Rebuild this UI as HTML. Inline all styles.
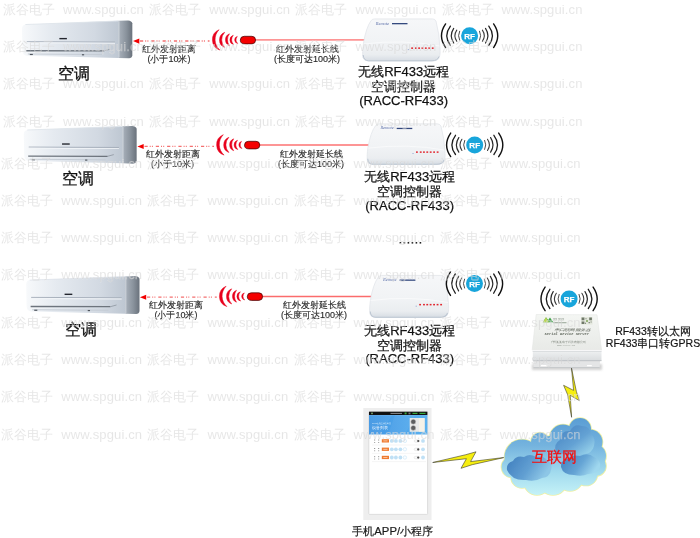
<!DOCTYPE html>
<html><head><meta charset="utf-8">
<style>
html,body{margin:0;padding:0;background:#fff}
body{width:700px;height:538px;position:relative;overflow:hidden;font-family:"Liberation Sans",sans-serif;color:#1a1a1a}
#root{position:absolute;left:0;top:0;width:700px;height:538px;will-change:transform}
svg{position:absolute;left:0;top:0}
.t{position:absolute;white-space:nowrap;line-height:1}
.s9{font-size:9px;color:#2a2a2a;text-align:center;line-height:10.3px;-webkit-text-stroke:0.15px #2a2a2a}
.ac{font-size:16px;color:#111;-webkit-text-stroke:0.3px #111}
.ctl{font-size:13px;line-height:15px;text-align:center;color:#111;-webkit-text-stroke:0.25px #111}
.wm{position:absolute;left:0;top:0;width:700px;height:538px;z-index:5;pointer-events:none}
.wr{position:absolute;left:0;height:16px;font-size:13px;line-height:16px;color:rgba(208,208,208,0.58);-webkit-text-stroke:0.25px rgba(255,255,255,0.35);white-space:nowrap}
.wr span{position:absolute;top:0}
.wr span:nth-child(even){letter-spacing:.12px}
</style></head>
<body>
<div id="root">
<svg width="700" height="538" viewBox="0 0 700 538">
<defs>
 <linearGradient id="acFront" x1="0" y1="0" x2="1" y2="0">
  <stop offset="0" stop-color="#f7f9fb"/><stop offset="0.3" stop-color="#e5eaf0"/><stop offset="0.75" stop-color="#d2d9e2"/><stop offset="1" stop-color="#bec7d2"/>
 </linearGradient>
 <linearGradient id="acSide" x1="0" y1="0" x2="1" y2="0">
  <stop offset="0" stop-color="#a9b1bb"/><stop offset="0.55" stop-color="#8a939d"/><stop offset="1" stop-color="#6a727c"/>
 </linearGradient>
 <linearGradient id="ctlG" x1="0" y1="0" x2="0" y2="1">
  <stop offset="0" stop-color="#f6f7f9"/><stop offset="0.55" stop-color="#f1f3f5"/><stop offset="0.85" stop-color="#eaedf0"/><stop offset="1" stop-color="#d6dce3"/>
 </linearGradient>
 <linearGradient id="hdrG" x1="0" y1="0" x2="1" y2="0">
  <stop offset="0" stop-color="#3f95e3"/><stop offset="1" stop-color="#5cb2f0"/>
 </linearGradient>

 <g id="acu">
  <path d="M3.6,4.3 Q0.3,4.7 0.2,8.7 L0.6,31 Q1,35.8 5,36 L96.6,38.3 L96.6,0.6 Z" fill="url(#acFront)"/>
  <path d="M3.6,4.4 L96.5,0.8" stroke="#dde3ea" stroke-width="0.8" fill="none"/>
  <path d="M96.6,0.6 L106,0.2 Q109.8,0.6 110.3,3 L110.3,35.5 Q110,38.3 107,38.7 L96.6,38.3 Z" fill="url(#acSide)"/>
  <path d="M97.1,1 L97.1,37.8" stroke="#c9d0d8" stroke-width="0.9"/>
  <path d="M5,21.8 L93,22.2" stroke="#a3acb8" stroke-width="0.9"/>
  <path d="M5,23 L93,23.4" stroke="#f2f5f8" stroke-width="1"/>
  <path d="M4.5,31 L82,31.2" stroke="#6d747d" stroke-width="1.3"/>
  <path d="M82,31.2 L88,29.5" stroke="#8e96a0" stroke-width="0.8"/>
  <path d="M6,34.3 L80,34.8" stroke="#c5ccd5" stroke-width="1"/>
  <rect x="8" y="34.2" width="3" height="1.2" fill="#50565e"/>
  <rect x="60" y="34.5" width="2.2" height="1.2" fill="#50565e"/>
  <rect x="37.5" y="18" width="7.5" height="1.4" fill="#23262e"/>
 </g>

 <g id="ctl">
  <path d="M12.5,0.9 L70.5,0.9 Q73,0.9 74,3.2 Q77.3,15 78,30 Q78.6,38 76.5,41 Q74.5,43 70,43 L6.5,43 Q2,43 0.9,39.5 Q0.1,35 1.5,25 Q4,10 8.8,3 Q10,0.9 12.5,0.9 Z" fill="url(#ctlG)" stroke="#dfe3e8" stroke-width="0.7"/>
  <path d="M1.2,37 Q1.6,42.6 6.5,42.8 L70,42.8 Q75.5,42.8 77,38.5" stroke="#bcc6d2" stroke-width="1" fill="none"/>
  <path d="M1.5,26 Q20,23.5 40,24 Q60,24.5 77.5,28" stroke="#ffffff" stroke-width="0.8" fill="none" opacity="0.7"/>
  <text x="13.8" y="6.6" font-size="4.4" font-style="italic" fill="#5a6ea8" font-family="Liberation Serif">Remote</text>
  <rect x="30" y="5" width="15.5" height="1.3" fill="#34497e"/>
  <rect x="45.8" y="31.2" width="0.9" height="0.9" fill="#7a8fc8"/>
  <g fill="#e2262e">
   <rect x="49.2" y="29.4" width="1.8" height="1.5"/><rect x="53" y="29.4" width="1.8" height="1.5"/>
   <rect x="56.2" y="29.4" width="1.8" height="1.5"/><rect x="59.5" y="29.4" width="1.8" height="1.5"/>
   <rect x="62.9" y="29.4" width="1.8" height="1.5"/><rect x="66.3" y="29.4" width="1.8" height="1.5"/>
   <rect x="69.8" y="29.4" width="1.8" height="1.5"/>
  </g>
 </g>

 <g id="rf">
  <g fill="none" stroke-linecap="round">
   <path d="M-24,-11.8 Q-32.2,0 -24,11.8 M24,-11.8 Q32.2,0 24,11.8" stroke="#111" stroke-width="1.4"/>
   <path d="M-19.2,-9.6 Q-26.4,0 -19.2,9.6 M19.2,-9.6 Q26.4,0 19.2,9.6" stroke="#1c1c1c" stroke-width="1.3"/>
   <path d="M-15.9,-7.3 Q-20.7,0 -15.9,7.3 M15.9,-7.3 Q20.7,0 15.9,7.3" stroke="#2a2a2a" stroke-width="1.2"/>
   <path d="M-12.8,-5.6 Q-16.6,0 -12.8,5.6 M12.8,-5.6 Q16.6,0 12.8,5.6" stroke="#3a3a3a" stroke-width="1.1"/>
   <path d="M-10,-4.5 Q-12.2,0 -10,4.5 M10,-4.5 Q12.2,0 10,4.5" stroke="#4a4a4a" stroke-width="1"/>
  </g>
  <circle cx="0" cy="0" r="8.5" fill="#18a5db"/>
  <text x="0" y="2.9" font-size="8" font-weight="bold" fill="#fff" text-anchor="middle" font-family="Liberation Sans" stroke="#fff" stroke-width="0.25">RF</text>
 </g>

 <g id="ir">
  <!-- local origin: (212,40) row1 -->
  <g fill="#e8001c" stroke="#e8001c" stroke-width="0.5" stroke-linejoin="round">
   <path d="M7.1,-10.3 A10.9,10.9 0 0 0 7.9,10.1 A14,14 0 0 1 7.1,-10.3 Z"/>
   <path d="M12.7,-7.7 A8.15,8.15 0 0 0 12.7,7.5 A11.1,11.1 0 0 1 12.7,-7.7 Z"/>
   <path d="M17.5,-6.2 A6.4,6.4 0 0 0 17.5,5.7 A9.85,9.85 0 0 1 17.5,-6.2 Z"/>
   <path d="M21.3,-4.7 A4.82,4.82 0 0 0 21.6,4.6 A6.77,6.77 0 0 1 21.3,-4.7 Z"/>
   <path d="M25.3,-3.6 A3.65,3.65 0 0 0 25.7,3.5 A5.5,5.5 0 0 1 25.3,-3.6 Z"/>
  </g>
  <path d="M32.3,-3.7 L39.8,-3.7 Q43.6,-3.7 43.6,0.1 Q43.6,3.9 39.8,3.9 L32.6,3.9 Q28.3,3.9 28.3,0.1 Q28.3,-3.7 32.3,-3.7 Z" fill="#f40000" stroke="#3a0000" stroke-width="0.7"/>
 </g>

</defs>

<!-- AC units -->
<use href="#acu" transform="translate(21.8,20.2) scale(1.002,0.985)"/>
<use href="#acu" transform="translate(23.6,125.7) scale(1.025,0.98)"/>
<use href="#acu" transform="translate(26,275.8) scale(1.029,0.99)"/>

<!-- dashed arrows -->
<g stroke="#f47070" stroke-width="1.3" fill="none">
 <path d="M140,41 L209.5,41" stroke-dasharray="3.2 2 1 1.2 1 2.9"/>
 <path d="M144.5,146.3 L214,146.3" stroke-dasharray="3.2 2 1 1.2 1 2.9"/>
 <path d="M147,297.1 L216.8,297.1" stroke-dasharray="3.2 2 1 1.2 1 2.9"/>
</g>
<g fill="#f20000">
 <path d="M133,41.1 L139.3,38.6 L139.3,43.7 Z"/>
 <path d="M137.4,146.4 L143.7,143.9 L143.7,149 Z"/>
 <path d="M139.9,297.2 L146.2,294.7 L146.2,299.8 Z"/>
</g>

<!-- extension lines -->
<g stroke="#fd9595" stroke-width="1.8">
 <path d="M255,39.8 L365,39.8"/>
 <path d="M259,145 L369.5,145"/>
 <path d="M262,296.4 L371.5,296.4" stroke="#fb6c6c" stroke-width="1.5"/>
</g>

<!-- IR emitters -->
<use href="#ir" transform="translate(212,40)"/>
<use href="#ir" transform="translate(216.2,145)"/>
<use href="#ir" transform="translate(219,296.5)"/>

<!-- controllers -->
<use href="#ctl" transform="translate(362,18)"/>
<use href="#ctl" transform="translate(366.5,123) scale(1.006,0.966)"/>
<use href="#ctl" transform="translate(369,274.5) scale(1.02,1)"/>

<!-- RF icons -->
<use href="#rf" transform="translate(469.6,35.7)"/>
<use href="#rf" transform="translate(474.7,144.9)"/>
<use href="#rf" transform="translate(474.5,283.6)"/>
<use href="#rf" transform="translate(569.1,298.9)"/>

<!-- dots -->
<g fill="#222">
 <rect x="399.6" y="242" width="1.6" height="1.6"/><rect x="403.6" y="242" width="1.6" height="1.6"/>
 <rect x="407.6" y="242" width="1.6" height="1.6"/><rect x="411.6" y="242" width="1.6" height="1.6"/>
 <rect x="415.6" y="242" width="1.6" height="1.6"/><rect x="419.6" y="242" width="1.6" height="1.6"/>
</g>

<!-- gateway -->
<defs>
 <linearGradient id="gwTop" x1="0" y1="0" x2="0" y2="1"><stop offset="0" stop-color="#f4f6f3"/><stop offset="1" stop-color="#e8eae7"/></linearGradient>
 <linearGradient id="gwFr" x1="0" y1="0" x2="0" y2="1"><stop offset="0" stop-color="#eef0f1"/><stop offset="1" stop-color="#d9dcde"/></linearGradient>
</defs>
<g>
 <rect x="532" y="364" width="70" height="6" fill="#c8c8c8" filter="url(#bl2)" opacity="0.8"/>
 <path d="M533.3,360.6 L600,360.6 L599.7,367.7 L533.5,367.7 Z" fill="#e4e5e6"/>
 <path d="M533.5,367.5 L599.7,367.5" stroke="#c2c5c8" stroke-width="0.8"/>
 <path d="M541,365.6 L547.4,365.6 M587,365.6 L591.8,365.6" stroke="#ffffff" stroke-width="1.3"/>
 <path d="M532.8,351.3 L601.5,351.3 L601.5,360.8 L532.8,360.8 Z" fill="url(#gwFr)"/>
 <path d="M532.8,360.7 L601.5,360.7" stroke="#b3b7bb" stroke-width="0.8"/>
 <path d="M532.6,351.2 L601.6,351.2" stroke="#c9cdd1" stroke-width="0.8"/>
 <path d="M536.2,314.5 L597,314.8 L601.6,349.9 L532.2,349.9 Z" fill="url(#gwTop)" stroke="#e0e3e0" stroke-width="0.5"/>
 <path d="M532.4,350.3 L601.6,350.3" stroke="#fbfbfb" stroke-width="0.9"/>
 <path d="M542.8,322.2 L546,317.2 L548.2,320 L550,317.4 L553.2,322.2 Z" fill="#3f9f4a"/>
 <path d="M542.8,322.2 L546,317.2 L549,322.2 Z" fill="#b9d655"/>
 <text x="553.3" y="320.4" font-size="2.3" fill="#667564" font-family="Liberation Sans" textLength="11" lengthAdjust="spacingAndGlyphs">某某某某某</text>
 <rect x="553.3" y="322.3" width="13.2" height="0.9" fill="#8c9a8a"/>
 <rect x="581" y="317" width="11.5" height="7.5" fill="#e4e8de"/>
 <path d="M581.6,317.6 h2.8 v2.6 h-2.8z M589.2,317.6 h2.7 v2.6 h-2.7z M581.6,321.6 h2.8 v2.4 h-2.8z M585.5,318.2 h1 v1 h-1z M586.2,320.2 h1.6 v1.6 h-1.6z M588.6,322 h1.2 v1.2 h-1.2z M590.6,321.4 h1 v1 h-1z M585,322.8 h1 v1 h-1z" fill="#6f7868"/>
 <rect x="586.4" y="320.4" width="1.2" height="1.2" fill="#8fd04a"/>
 <text x="554" y="331.2" font-size="3.3" fill="#5c6258" font-family="Liberation Sans" font-style="italic" textLength="36" lengthAdjust="spacingAndGlyphs">串口联网服务器</text>
 <text x="544.5" y="334.8" font-size="3.2" fill="#636a60" font-family="Liberation Mono" font-weight="bold" font-style="italic" textLength="44.5" lengthAdjust="spacingAndGlyphs">Serial Device Server</text>
 <text x="550.5" y="343" font-size="2.6" fill="#7a8078" font-family="Liberation Sans" textLength="35" lengthAdjust="spacingAndGlyphs">广州某某电子科技有限公司</text>
 <text x="557" y="346" font-size="2.2" fill="#8a9088" font-family="Liberation Mono" textLength="18" lengthAdjust="spacingAndGlyphs">www.xxxxx.cn</text>
</g>

<!-- bolts -->
<path d="M571.5,368.1 L576.4,391.6 L579.3,400.6 L570.2,395.3 L571.6,417.3 L567.6,394.6 L563.6,385.3 L573.6,390.4 Z" fill="#f6ee10" stroke="#3a3a2a" stroke-width="0.6" stroke-linejoin="round"/>
<path d="M432.7,462.5 L465.8,454.7 L476,451.8 L470.6,461.6 L504.7,457.4 L472.2,464.7 L461,468.3 L466.4,458.7 Z" fill="#f6ee10" stroke="#3a3a2a" stroke-width="0.6" stroke-linejoin="round"/>

<!-- cloud -->
<defs>
 <linearGradient id="cgU" gradientUnits="userSpaceOnUse" x1="0" y1="418" x2="0" y2="496">
  <stop offset="0" stop-color="#5a9dd4"/><stop offset="0.35" stop-color="#74b3de"/><stop offset="0.7" stop-color="#a2dbee"/><stop offset="1" stop-color="#c6f3f8"/>
 </linearGradient>
 <linearGradient id="cgD1" x1="0" y1="0" x2="1" y2="1">
  <stop offset="0" stop-color="#4380c0"/><stop offset="0.55" stop-color="#64a2d4"/><stop offset="1" stop-color="#a4def0"/>
 </linearGradient>
 <linearGradient id="cgD2" x1="0" y1="0" x2="1" y2="0.4">
  <stop offset="0" stop-color="#3e7cbd"/><stop offset="0.6" stop-color="#619fd2"/><stop offset="1" stop-color="#8dc6e6"/>
 </linearGradient>
 <linearGradient id="cgD3" x1="0" y1="0" x2="1" y2="0.4">
  <stop offset="0" stop-color="#3f7dbe"/><stop offset="0.6" stop-color="#66a5d5"/><stop offset="1" stop-color="#9fd7ee"/>
 </linearGradient>
 <filter id="bl" x="-20%" y="-20%" width="140%" height="140%"><feGaussianBlur stdDeviation="0.6"/></filter>
 <filter id="bl2" x="-20%" y="-50%" width="140%" height="200%"><feGaussianBlur stdDeviation="1.2"/></filter>
</defs>
<g>
 <g fill="#eef0a4"><circle cx="522" cy="457" r="18.3"/><circle cx="512" cy="467" r="11.3"/><circle cx="522" cy="477" r="11.8"/><circle cx="537" cy="482" r="13.8"/><circle cx="553" cy="481" r="14.8"/><circle cx="570" cy="478" r="13.8"/><circle cx="586" cy="474" r="12.3"/><circle cx="596" cy="466" r="10.8"/><circle cx="594" cy="456" r="12.8"/><circle cx="590" cy="442" r="13.3"/><circle cx="580" cy="429" r="11.8"/><circle cx="563" cy="438" r="14.3"/><circle cx="540" cy="441.5" r="9.8"/><circle cx="550" cy="460" r="24.8"/><circle cx="575" cy="455" r="18.8"/><circle cx="530" cy="462" r="16.8"/></g>
 <g fill="url(#cgU)"><circle cx="522" cy="457" r="17.5"/><circle cx="512" cy="467" r="10.5"/><circle cx="522" cy="477" r="11"/><circle cx="537" cy="482" r="13"/><circle cx="553" cy="481" r="14"/><circle cx="570" cy="478" r="13"/><circle cx="586" cy="474" r="11.5"/><circle cx="596" cy="466" r="10"/><circle cx="594" cy="456" r="12"/><circle cx="590" cy="442" r="12.5"/><circle cx="580" cy="429" r="11"/><circle cx="563" cy="438" r="13.5"/><circle cx="540" cy="441.5" r="9"/><circle cx="550" cy="460" r="24"/><circle cx="575" cy="455" r="18"/><circle cx="530" cy="462" r="16"/></g>
 <g filter="url(#bl)">
  <path fill="url(#cgD1)" d="M556,452 Q553,444 560,440 Q561,430 570,431 Q574,423 582,426 Q590,426 591,434 Q596,438 594,446 Q592,453 585,454 Q570,457 556,452 Z"/>
  <path fill="url(#cgD2)" d="M507,470 Q506,463 513,461 Q516,455 524,457 Q530,453 536,457 Q543,455 547,460 Q553,463 551,470 Q550,477 542,478 Q535,482 526,480 Q512,481 507,470 Z"/>
  <path fill="url(#cgD3)" d="M561,467 Q560,461 567,459 Q572,454 580,456 Q588,452 594,457 Q601,460 600,467 Q598,474 588,474 Q582,477 574,475 Q563,475 561,467 Z"/>
 </g>
</g>

<!-- phone -->
<g>
 <rect x="363.3" y="408" width="68.2" height="112" fill="#eeeeee"/>
 <rect x="368.8" y="411.6" width="58.8" height="102.8" rx="0.8" fill="#fff" stroke="#d9d9d9" stroke-width="0.9"/>
 <rect x="369" y="411.7" width="58.4" height="3.4" fill="#111"/>
 <rect x="371" y="412.6" width="2" height="1.6" fill="#6c8a5a"/><rect x="390.5" y="412.9" width="11.5" height="0.9" fill="#9a9a9a"/><rect x="404.6" y="412.5" width="2" height="1.8" fill="#3aa83a"/><rect x="408.5" y="412.6" width="2" height="1.7" fill="#777"/><rect x="412.5" y="412.8" width="5" height="1.2" fill="#3aa83a"/><rect x="419.5" y="412.8" width="6" height="1.2" fill="#3aa83a"/>
 <rect x="369" y="415.1" width="58.4" height="19.4" fill="url(#hdrG)"/>
 <path d="M369,415.1 L392,415.1 L380,434.5 L369,434.5 Z" fill="#ffffff" opacity="0.06"/><path d="M395,415.1 L415,415.1 L405,434.5 L388,434.5 Z" fill="#ffffff" opacity="0.05"/>
 <text x="372" y="423.8" font-size="1.9" fill="#d6ebfc" textLength="18.5" lengthAdjust="spacingAndGlyphs">RF433远程空调控制器</text>
 <text x="372" y="429.3" font-size="4.4" fill="#eef6fe">设备列表</text>
 <rect x="409.7" y="418" width="15" height="13.8" fill="#e9e9e7"/>
 <circle cx="413.3" cy="421.7" r="2.5" fill="#5e5e5e" stroke="#d0d0d0" stroke-width="0.5"/><circle cx="413.3" cy="427.9" r="2.5" fill="#5e5e5e" stroke="#d0d0d0" stroke-width="0.5"/>
 <rect x="419" y="418.2" width="5.5" height="13.4" fill="#f6f2e8"/>
 <g fill="#ef7a30"><rect x="381.8" y="439.2" width="7.2" height="3.3"/><rect x="381.8" y="447.6" width="7.2" height="3.3"/><rect x="381.8" y="455.8" width="7.2" height="3.3"/></g>
 <g fill="#f9d2b8"><rect x="383.3" y="440.5" width="4.2" height="0.8"/><rect x="383.3" y="448.9" width="4.2" height="0.8"/><rect x="383.3" y="457.1" width="4.2" height="0.8"/></g>
 <g fill="#bfe0f5">
  <circle cx="391.8" cy="440.9" r="1.9"/><circle cx="395.9" cy="440.9" r="1.9"/><circle cx="400.4" cy="440.9" r="1.9"/>
  <circle cx="391.8" cy="449.3" r="1.9"/><circle cx="395.9" cy="449.3" r="1.9"/><circle cx="400.4" cy="449.3" r="1.9"/>
  <circle cx="391.8" cy="457.5" r="1.9"/><circle cx="395.9" cy="457.5" r="1.9"/><circle cx="400.4" cy="457.5" r="1.9"/>
  <circle cx="423" cy="440.9" r="1.9"/><circle cx="423" cy="449.3" r="1.9"/><circle cx="423" cy="457.5" r="1.9"/>
 </g>
 <g fill="#fbfdff" stroke="#bfe0f5" stroke-width="0.5"><circle cx="404.9" cy="440.9" r="1.7"/><circle cx="404.9" cy="449.3" r="1.7"/><circle cx="404.9" cy="457.5" r="1.7"/></g>
 <g fill="#fafafa" stroke="#cfcfcf" stroke-width="0.4"><rect x="414.2" y="439.8" width="5.4" height="2.4" rx="1.2"/><rect x="414.2" y="448.2" width="5.4" height="2.4" rx="1.2"/><rect x="414.2" y="456.4" width="5.4" height="2.4" rx="1.2"/></g>
 <g fill="#4a4a4a"><circle cx="418.2" cy="441" r="1.1"/><circle cx="418.2" cy="449.4" r="1.1"/><circle cx="418.2" cy="457.6" r="1.1"/></g>
 <g fill="#999"><rect x="374" y="439.5" width="1.2" height="1"/><rect x="378" y="439.5" width="1.2" height="1"/><rect x="374" y="442" width="1.2" height="0.8"/><rect x="378" y="442" width="1.2" height="0.8"/>
 <rect x="374" y="448" width="1.2" height="1"/><rect x="378" y="448" width="1.2" height="1"/><rect x="374" y="450.4" width="1.2" height="0.8"/><rect x="378" y="450.4" width="1.2" height="0.8"/>
 <rect x="374" y="456.2" width="1.2" height="1"/><rect x="378" y="456.2" width="1.2" height="1"/><rect x="374" y="458.6" width="1.2" height="0.8"/><rect x="378" y="458.6" width="1.2" height="0.8"/></g>
 <g stroke="#eeeeee" stroke-width="0.6"><path d="M372,445 L426,445 M372,453.4 L426,453.4 M372,461.6 L426,461.6"/></g>
</g>
</svg>

<!-- text labels -->
<div class="t ac" style="left:58.2px;top:66px">空调</div>
<div class="t ac" style="left:62.4px;top:170.8px">空调</div>
<div class="t ac" style="left:65.4px;top:321.7px">空调</div>

<div class="t s9" style="left:141px;top:44px;width:56px">红外发射距离<br>(小于10米)</div>
<div class="t s9" style="left:144.5px;top:149px;width:56px">红外发射距离<br>(小于10米)</div>
<div class="t s9" style="left:148px;top:300px;width:56px">红外发射距离<br>(小于10米)</div>

<div class="t s9" style="left:270px;top:44px;width:74px">红外发射延长线<br>(长度可达100米)</div>
<div class="t s9" style="left:274px;top:149px;width:74px">红外发射延长线<br>(长度可达100米)</div>
<div class="t s9" style="left:277px;top:300px;width:74px">红外发射延长线<br>(长度可达100米)</div>

<div class="t ctl" style="left:353.7px;top:64px;width:100px">无线RF433远程<br>空调控制器<br><span style="position:relative;top:-1.3px">(RACC-RF433)</span></div>
<div class="t ctl" style="left:359.7px;top:169px;width:100px">无线RF433远程<br>空调控制器<br><span style="position:relative;top:-1.3px">(RACC-RF433)</span></div>
<div class="t ctl" style="left:359.7px;top:322.7px;width:100px">无线RF433远程<br>空调控制器<br><span style="position:relative;top:-1.3px">(RACC-RF433)</span></div>

<div class="t" style="left:600px;top:325px;width:106px;font-size:10.5px;line-height:12.2px;text-align:center;color:#151515;-webkit-text-stroke:0.2px #151515">RF433转以太网<br>RF433串口转GPRS</div>

<div class="t" style="left:531.8px;top:449.3px;font-size:15.2px;color:#f50f0f;-webkit-text-stroke:0.3px #f50f0f">互联网</div>

<div class="t" style="left:352.2px;top:525.5px;font-size:11.3px;color:#1a1a1a;-webkit-text-stroke:0.2px #1a1a1a;letter-spacing:0.05px">手机APP/小程序</div>

<!-- watermark -->
<div class="wm">
<div class="wr" style="top:2.4px"><span style="left:3px">派谷电子</span><span style="left:63px">www.spgui.cn</span><span style="left:149.2px">派谷电子</span><span style="left:209.2px">www.spgui.cn</span><span style="left:295.4px">派谷电子</span><span style="left:355.4px">www.spgui.cn</span><span style="left:441.6px">派谷电子</span><span style="left:501.6px">www.spgui.cn</span></div>
<div class="wr" style="top:39.4px"><span style="left:3px">派谷电子</span><span style="left:63px">www.spgui.cn</span><span style="left:149.2px">派谷电子</span><span style="left:209.2px">www.spgui.cn</span><span style="left:295.4px">派谷电子</span><span style="left:355.4px">www.spgui.cn</span><span style="left:441.6px">派谷电子</span><span style="left:501.6px">www.spgui.cn</span></div>
<div class="wr" style="top:76.4px"><span style="left:3px">派谷电子</span><span style="left:63px">www.spgui.cn</span><span style="left:149.2px">派谷电子</span><span style="left:209.2px">www.spgui.cn</span><span style="left:295.4px">派谷电子</span><span style="left:355.4px">www.spgui.cn</span><span style="left:441.6px">派谷电子</span><span style="left:501.6px">www.spgui.cn</span></div>
<div class="wr" style="top:113.9px"><span style="left:3px">派谷电子</span><span style="left:63px">www.spgui.cn</span><span style="left:149.2px">派谷电子</span><span style="left:209.2px">www.spgui.cn</span><span style="left:295.4px">派谷电子</span><span style="left:355.4px">www.spgui.cn</span><span style="left:441.6px">派谷电子</span><span style="left:501.6px">www.spgui.cn</span></div>
<div class="wr" style="top:155.9px"><span style="left:1.2px">派谷电子</span><span style="left:61.2px">www.spgui.cn</span><span style="left:147.4px">派谷电子</span><span style="left:207.4px">www.spgui.cn</span><span style="left:293.6px">派谷电子</span><span style="left:353.6px">www.spgui.cn</span><span style="left:439.8px">派谷电子</span><span style="left:499.8px">www.spgui.cn</span></div>
<div class="wr" style="top:193px"><span style="left:1.2px">派谷电子</span><span style="left:61.2px">www.spgui.cn</span><span style="left:147.4px">派谷电子</span><span style="left:207.4px">www.spgui.cn</span><span style="left:293.6px">派谷电子</span><span style="left:353.6px">www.spgui.cn</span><span style="left:439.8px">派谷电子</span><span style="left:499.8px">www.spgui.cn</span></div>
<div class="wr" style="top:230.3px"><span style="left:1.2px">派谷电子</span><span style="left:61.2px">www.spgui.cn</span><span style="left:147.4px">派谷电子</span><span style="left:207.4px">www.spgui.cn</span><span style="left:293.6px">派谷电子</span><span style="left:353.6px">www.spgui.cn</span><span style="left:439.8px">派谷电子</span><span style="left:499.8px">www.spgui.cn</span></div>
<div class="wr" style="top:267.4px"><span style="left:1.2px">派谷电子</span><span style="left:61.2px">www.spgui.cn</span><span style="left:147.4px">派谷电子</span><span style="left:207.4px">www.spgui.cn</span><span style="left:293.6px">派谷电子</span><span style="left:353.6px">www.spgui.cn</span><span style="left:439.8px">派谷电子</span><span style="left:499.8px">www.spgui.cn</span></div>
<div class="wr" style="top:315.4px"><span style="left:1.2px">派谷电子</span><span style="left:61.2px">www.spgui.cn</span><span style="left:147.4px">派谷电子</span><span style="left:207.4px">www.spgui.cn</span><span style="left:293.6px">派谷电子</span><span style="left:353.6px">www.spgui.cn</span><span style="left:439.8px">派谷电子</span><span style="left:499.8px">www.spgui.cn</span></div>
<div class="wr" style="top:352.4px"><span style="left:1.2px">派谷电子</span><span style="left:61.2px">www.spgui.cn</span><span style="left:147.4px">派谷电子</span><span style="left:207.4px">www.spgui.cn</span><span style="left:293.6px">派谷电子</span><span style="left:353.6px">www.spgui.cn</span><span style="left:439.8px">派谷电子</span><span style="left:499.8px">www.spgui.cn</span></div>
<div class="wr" style="top:389px"><span style="left:1.2px">派谷电子</span><span style="left:61.2px">www.spgui.cn</span><span style="left:147.4px">派谷电子</span><span style="left:207.4px">www.spgui.cn</span><span style="left:293.6px">派谷电子</span><span style="left:353.6px">www.spgui.cn</span><span style="left:439.8px">派谷电子</span><span style="left:499.8px">www.spgui.cn</span></div>
<div class="wr" style="top:426.9px"><span style="left:1.2px">派谷电子</span><span style="left:61.2px">www.spgui.cn</span><span style="left:147.4px">派谷电子</span><span style="left:207.4px">www.spgui.cn</span><span style="left:293.6px">派谷电子</span><span style="left:353.6px">www.spgui.cn</span><span style="left:439.8px">派谷电子</span><span style="left:499.8px">www.spgui.cn</span></div>
</div>
</div>
</body></html>
